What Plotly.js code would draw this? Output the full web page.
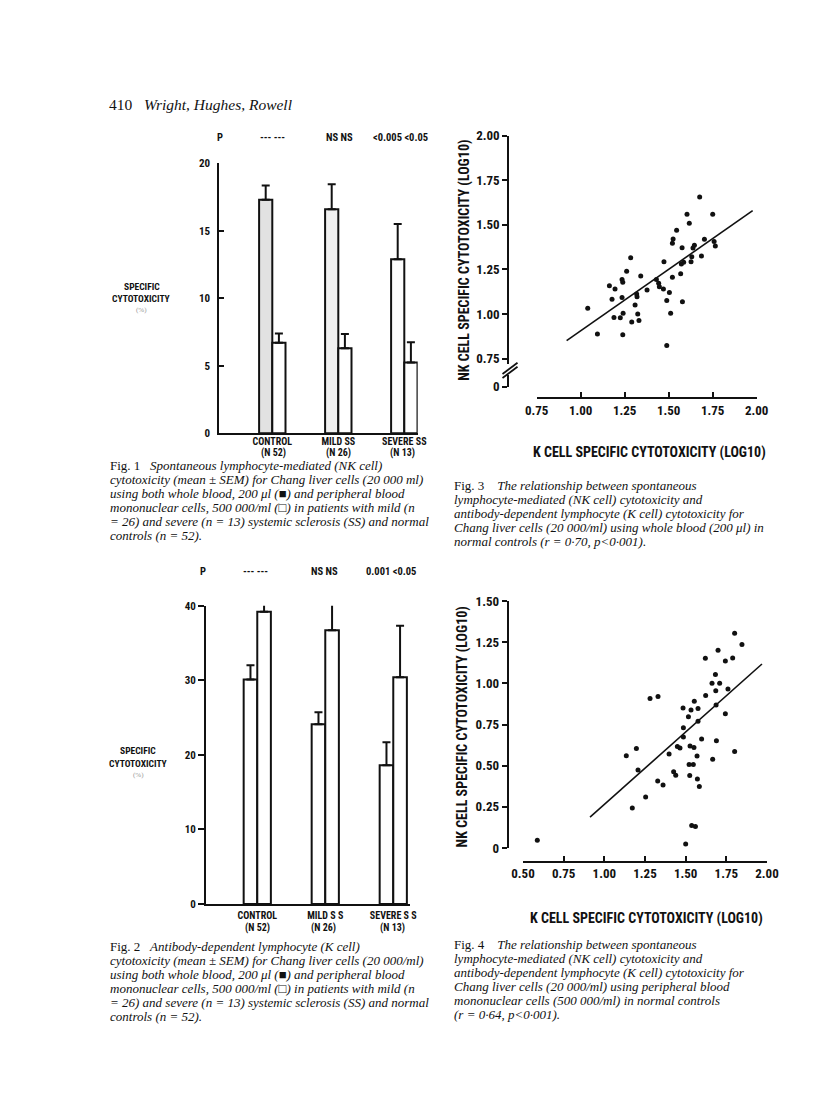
<!DOCTYPE html>
<html><head><meta charset="utf-8">
<script src="https://cdn.plot.ly/plotly-3.0.1.min.js"></script>
<style>html,body{margin:0;padding:0;background:#fff}#chart{width:816px;height:1099px}
#chart svg text{font-stretch:condensed}</style>
</head><body><div id="chart"></div>
<script>
// ---------------- data ----------------
const fig1Groups = ['CONTROL', 'MILD SS', 'SEVERE SS'];
const fig2Groups = ['CONTROL', 'MILD S S', 'SEVERE S S'];
const groupN = ['(N 52)', '(N 26)', '(N 13)'];

const fig1WholeBlood = [17.3, 16.6, 12.9];
const fig1WholeBloodSEM = [1.05, 1.85, 2.6];
const fig1PBMC = [6.7, 6.3, 5.25];
const fig1PBMCSEM = [0.7, 1.05, 1.5];
const fig1P = ['--- ---', 'NS NS', '&lt;0.005 &lt;0.05'];
const fig1Ticks = [0, 5, 10, 15, 20];

const fig2WholeBlood = [30.1, 24.1, 18.6];
const fig2WholeBloodSEM = [1.9, 1.6, 3.1];
const fig2PBMC = [39.2, 36.7, 30.4];
const fig2PBMCSEM = [2.2, 3.55, 6.9];
const fig2P = ['--- ---', 'NS NS', '0.001 &lt;0.05'];
const fig2Ticks = [0, 10, 20, 30, 40];

// Fig 3: whole blood, K cell (x) vs NK cell (y), log10
const fig3K = [1.040,1.095,1.163,1.178,1.195,1.189,1.225,1.235,1.235,1.239,1.241,1.239,1.261,1.284,1.290,1.309,1.318,1.320,1.324,1.331,1.341,1.377,1.430,1.443,1.447,1.470,1.473,1.489,1.489,1.504,1.511,1.521,1.521,1.525,1.545,1.568,1.572,1.576,1.578,1.585,1.604,1.617,1.627,1.631,1.638,1.646,1.676,1.686,1.703,1.750,1.758,1.765];
const fig3NK = [1.032,0.888,1.159,1.082,1.140,0.981,0.979,1.093,1.194,1.178,1.004,0.884,1.239,1.316,0.955,1.050,1.112,1.097,1.000,0.963,1.213,1.135,1.194,1.172,1.153,1.140,1.293,1.075,0.823,1.121,1.004,1.206,1.396,1.420,1.469,1.226,1.280,1.372,1.069,1.290,1.559,1.508,1.293,1.321,1.370,1.385,1.656,1.325,1.419,1.559,1.407,1.381];
const fig3FitK = [0.920, 1.977];
const fig3FitNK = [0.851, 1.579];
const fig3XTicks = [0.75, 1.00, 1.25, 1.50, 1.75, 2.00];
const fig3YTicks = [0.5925, 0.75, 1.00, 1.25, 1.50, 1.75, 2.00];
const fig3YTickText = ['0', '0.75', '1.00', '1.25', '1.50', '1.75', '2.00'];

// Fig 4: peripheral blood mononuclear cells
const fig4K = [0.588,1.135,1.172,1.197,1.207,1.254,1.281,1.330,1.328,1.361,1.398,1.426,1.439,1.449,1.465,1.484,1.486,1.486,1.500,1.517,1.521,1.525,1.527,1.533,1.537,1.547,1.551,1.553,1.560,1.570,1.572,1.576,1.576,1.584,1.598,1.621,1.623,1.662,1.666,1.683,1.685,1.687,1.689,1.699,1.709,1.744,1.744,1.760,1.789,1.801,1.801,1.846,1.877];
const fig4NK = [0.047,0.561,0.243,0.605,0.474,0.310,0.909,0.921,0.407,0.383,0.571,0.464,0.442,0.616,0.608,0.851,0.731,0.675,0.025,0.798,0.507,0.440,0.620,0.839,0.136,0.507,0.610,0.891,0.130,0.559,0.419,0.847,0.770,0.373,0.662,1.153,0.926,1.001,0.539,1.054,0.956,0.869,0.652,1.201,1.001,1.136,0.816,0.966,1.155,1.304,0.586,1.236,1.511];
const fig4FitK = [0.912, 1.969];
const fig4FitNK = [0.187, 1.118];
const fig4XTicks = [0.50, 0.75, 1.00, 1.25, 1.50, 1.75, 2.00];
const fig4YTicks = [0, 0.25, 0.50, 0.75, 1.00, 1.25, 1.50];
const fig4YTickText = ['0', '0.25', '0.50', '0.75', '1.00', '1.25', '1.50'];

const axisTitle = 'K CELL SPECIFIC CYTOTOXICITY (LOG10)';
const yTitle = 'NK CELL SPECIFIC CYTOTOXICITY (LOG10)';

const captions = {
  fig1: ['Fig. 1&nbsp;&nbsp; <i>Spontaneous lymphocyte-mediated (NK cell)</i>',
    '<i>cytotoxicity (mean ± SEM) for Chang liver cells (20 000 ml)</i>',
    '<i>using both whole blood, 200 μl (■) and peripheral blood</i>',
    '<i>mononuclear cells, 500 000/ml (□) in patients with mild (n</i>',
    '<i>= 26) and severe (n = 13) systemic sclerosis (SS) and normal</i>',
    '<i>controls (n = 52).</i>'],
  fig2: ['Fig. 2&nbsp;&nbsp; <i>Antibody-dependent lymphocyte (K cell)</i>',
    '<i>cytotoxicity (mean ± SEM) for Chang liver cells (20 000/ml)</i>',
    '<i>using both whole blood, 200 μl (■) and peripheral blood</i>',
    '<i>mononuclear cells, 500 000/ml (□) in patients with mild (n</i>',
    '<i>= 26) and severe (n = 13) systemic sclerosis (SS) and normal</i>',
    '<i>controls (n = 52).</i>'],
  fig3: ['Fig. 3&nbsp;&nbsp;&nbsp; <i>The relationship between spontaneous</i>',
    '<i>lymphocyte-mediated (NK cell) cytotoxicity and</i>',
    '<i>antibody-dependent lymphocyte (K cell) cytotoxicity for</i>',
    '<i>Chang liver cells (20 000/ml) using whole blood (200 μl) in</i>',
    '<i>normal controls (r = 0·70, p&lt;0·001).</i>'],
  fig4: ['Fig. 4&nbsp;&nbsp;&nbsp; <i>The relationship between spontaneous</i>',
    '<i>lymphocyte-mediated (NK cell) cytotoxicity and</i>',
    '<i>antibody-dependent lymphocyte (K cell) cytotoxicity for</i>',
    '<i>Chang liver cells (20 000/ml) using peripheral blood</i>',
    '<i>mononuclear cells (500 000/ml) in normal controls</i>',
    '<i>(r = 0·64, p&lt;0·001).</i>']
};

// ---------------- layout helpers ----------------
const W = 816, H = 1099;
const PX = v => v / W;
const PY = v => 1 - v / H;
const COND = '"Roboto Condensed", "Noto Sans Condensed", "Liberation Sans Narrow", "DejaVu Sans Condensed", "Noto Sans", "Liberation Sans", sans-serif';
const SERIF = '"Liberation Serif", "Times New Roman", serif';

const ctx = document.createElement('canvas').getContext('2d');
function fitSize(str, targetW, lo, hi) {
  ctx.font = 'bold condensed 100px ' + COND;
  const w = ctx.measureText(str).width || 1;
  return Math.max(lo, Math.min(hi, targetW / w * 100));
}
const sBarX = 10;
const sBarY = 11;
const sP = 10.5;
const sYLab = 9.5;
const sScTick = 13;
const sScTitle = fitSize(axisTitle, 246, 12, 14);

const bold = s => ({family: COND, size: s, color: '#111', weight: 'bold'});
const idx = [0, 1, 2];

function barTraces(whole, wholeSem, pbmc, pbmcSem, wholeColors, xa, ya) {
  const common = {type: 'bar', xaxis: xa, yaxis: ya, width: 0.2, cliponaxis: false,
    hoverinfo: 'skip'};
  return [
    Object.assign({}, common, {x: idx, y: whole, offset: -0.2,
      marker: {color: wholeColors, line: {color: '#111', width: 2}},
      error_y: {type: 'data', symmetric: false, array: wholeSem, arrayminus: [0, 0, 0],
        color: '#111', thickness: 2, width: 4}}),
    Object.assign({}, common, {x: idx, y: pbmc, offset: 0,
      marker: {color: '#fff', line: {color: '#111', width: 2}},
      error_y: {type: 'data', symmetric: false, array: pbmcSem, arrayminus: [0, 0, 0],
        color: '#111', thickness: 2, width: 4}})
  ];
}

const traces = [
  ...barTraces(fig1WholeBlood, fig1WholeBloodSEM, fig1PBMC, fig1PBMCSEM,
    ['#e2e2e2', '#f0f0f0', '#fcfcfc'], 'x', 'y'),
  ...barTraces(fig2WholeBlood, fig2WholeBloodSEM, fig2PBMC, fig2PBMCSEM,
    ['#fff', '#fff', '#fff'], 'x2', 'y2'),
  {type: 'scatter', mode: 'lines', x: fig3FitK, y: fig3FitNK, xaxis: 'x3', yaxis: 'y3',
    line: {color: '#111', width: 1.6}, cliponaxis: false, hoverinfo: 'skip'},
  {type: 'scatter', mode: 'markers', x: fig3K, y: fig3NK, xaxis: 'x3', yaxis: 'y3',
    marker: {color: '#111', size: 5}, cliponaxis: false, hoverinfo: 'skip'},
  {type: 'scatter', mode: 'lines', x: fig4FitK, y: fig4FitNK, xaxis: 'x4', yaxis: 'y4',
    line: {color: '#111', width: 1.6}, cliponaxis: false, hoverinfo: 'skip'},
  {type: 'scatter', mode: 'markers', x: fig4K, y: fig4NK, xaxis: 'x4', yaxis: 'y4',
    marker: {color: '#111', size: 5}, cliponaxis: false, hoverinfo: 'skip'}
];

const baseAxis = {showgrid: false, zeroline: false, showline: true, linecolor: '#111',
  linewidth: 2, tickcolor: '#111', tickwidth: 2, fixedrange: true};

const ann = [];
function A(text, x, y, o) {
  ann.push(Object.assign({text: text, x: PX(x), y: PY(y), xref: 'paper', yref: 'paper',
    showarrow: false, xanchor: 'center', yanchor: 'middle', font: bold(sP)}, o || {}));
}

// header
A('410&nbsp;&nbsp; <i>Wright, Hughes, Rowell</i>', 107, 105,
  {xanchor: 'left', font: {family: SERIF, size: 15.5, color: '#111'}});

// fig1 P row, y label, group sizes
A('P', 220, 137);
const fig1PX = [272.7, 339.5, 400.8];
fig1P.forEach((t, i) => A(t, fig1PX[i], 137));
A('SPECIFIC', 141.7, 286, {font: bold(sYLab)});
A('CYTOTOXICITY', 141.7, 298.3, {font: bold(sYLab)});
A('(%)', 141.7, 310, {font: {family: SERIF, size: 7, color: '#999'}});
const fig1NX = [273, 338, 402];
groupN.forEach((t, i) => A(t, fig1NX[i], 453.5, {font: bold(sBarX)}));

// fig2 P row, y label, group sizes
A('P', 203.3, 571.7);
const fig2PX = [255.5, 324, 390.5];
fig2P.forEach((t, i) => A(t, fig2PX[i], 571.7));
A('SPECIFIC', 138.3, 750.7, {font: bold(sYLab)});
A('CYTOTOXICITY', 138.3, 763.3, {font: bold(sYLab)});
A('(%)', 138.3, 775, {font: {family: SERIF, size: 7, color: '#999'}});
const fig2NX = [257, 323.5, 392];
groupN.forEach((t, i) => A(t, fig2NX[i], 928, {font: bold(sBarX)}));

// scatter axis titles
A(axisTitle, 649.5, 452.3, {font: bold(sScTitle)});
A(yTitle, 465, 260.8, {font: bold(sScTitle), textangle: -90});
A(axisTitle, 646.7, 918.3, {font: bold(sScTitle)});
A(yTitle, 462.7, 726.7, {font: bold(sScTitle), textangle: -90});

// captions
const capFont = {family: SERIF, size: 13, color: '#111'};
const capSpec = [
  ['fig1', 108.3, 466, 14],
  ['fig2', 108.3, 946.5, 14],
  ['fig3', 451.7, 485, 14.1],
  ['fig4', 451.7, 944.5, 14]
];
capSpec.forEach(([k, x0, y0, dy]) => {
  captions[k].forEach((t, i) => A(t, x0, y0 + i * dy, {xanchor: 'left', font: capFont}));
});

const shapes = [
  // axis break on fig 3 NK axis
  {type: 'rect', xref: 'paper', yref: 'paper', x0: PX(503), x1: PX(514), y0: PY(375), y1: PY(364),
    fillcolor: '#fff', line: {width: 0}, layer: 'above'},
  {type: 'line', xref: 'paper', yref: 'paper', x0: PX(502.5), y0: PY(374), x1: PX(517.5), y1: PY(362.7),
    line: {color: '#111', width: 1.8}, layer: 'above'},
  {type: 'line', xref: 'paper', yref: 'paper', x0: PX(502.5), y0: PY(378), x1: PX(517.5), y1: PY(366.7),
    line: {color: '#111', width: 1.8}, layer: 'above'}
];

const layout = {
  width: W, height: H, margin: {l: 0, r: 0, t: 0, b: 0},
  paper_bgcolor: '#fff', plot_bgcolor: 'rgba(0,0,0,0)', showlegend: false,
  barmode: 'group',
  xaxis: Object.assign({}, baseAxis, {domain: [PX(219.3), PX(417.7)], range: [-0.803, 2.203],
    anchor: 'y', tickvals: idx, ticktext: fig1Groups, ticks: '', tickfont: bold(sBarX),
    ticklabelstandoff: -2}),
  yaxis: Object.assign({}, baseAxis, {domain: [PY(433.3), PY(163.3)], range: [0, 20],
    anchor: 'x', tickvals: fig1Ticks, ticks: 'inside', ticklen: 5, tickfont: bold(sBarY),
    ticklabelstandoff: 5}),
  xaxis2: Object.assign({}, baseAxis, {domain: [PX(206), PX(410)], range: [-0.754, 2.246],
    anchor: 'y2', tickvals: idx, ticktext: fig2Groups, ticks: '', tickfont: bold(sBarX),
    ticklabelstandoff: 1}),
  yaxis2: Object.assign({}, baseAxis, {domain: [PY(904), PY(605.7)], range: [0, 40],
    anchor: 'x2', tickvals: fig2Ticks, ticks: 'outside', ticklen: 6, tickfont: bold(sBarY)}),
  xaxis3: Object.assign({}, baseAxis, {domain: [PX(536.7), PX(756.7)], range: [0.75, 2.0],
    anchor: 'free', position: PY(398), tickvals: fig3XTicks, tickformat: '.2f',
    ticks: 'inside', ticklen: 5, tickfont: bold(sScTick)}),
  yaxis3: Object.assign({}, baseAxis, {domain: [PY(386.7), PY(135.6)], range: [0.5925, 2.0],
    anchor: 'free', position: PX(508.3), tickvals: fig3YTicks, ticktext: fig3YTickText,
    ticks: 'outside', ticklen: 5, tickfont: bold(sScTick)}),
  xaxis4: Object.assign({}, baseAxis, {domain: [PX(523), PX(767)], range: [0.5, 2.0],
    anchor: 'free', position: PY(861.7), tickvals: fig4XTicks, tickformat: '.2f',
    ticks: 'inside', ticklen: 5, tickfont: bold(sScTick)}),
  yaxis4: Object.assign({}, baseAxis, {domain: [PY(848), PY(601.1)], range: [0, 1.5],
    anchor: 'free', position: PX(507.7), tickvals: fig4YTicks, ticktext: fig4YTickText,
    ticks: 'outside', ticklen: 5, tickfont: bold(sScTick)}),
  annotations: ann,
  shapes: shapes
};

Plotly.newPlot('chart', traces, layout, {staticPlot: true, displayModeBar: false});
</script>
</body></html>
